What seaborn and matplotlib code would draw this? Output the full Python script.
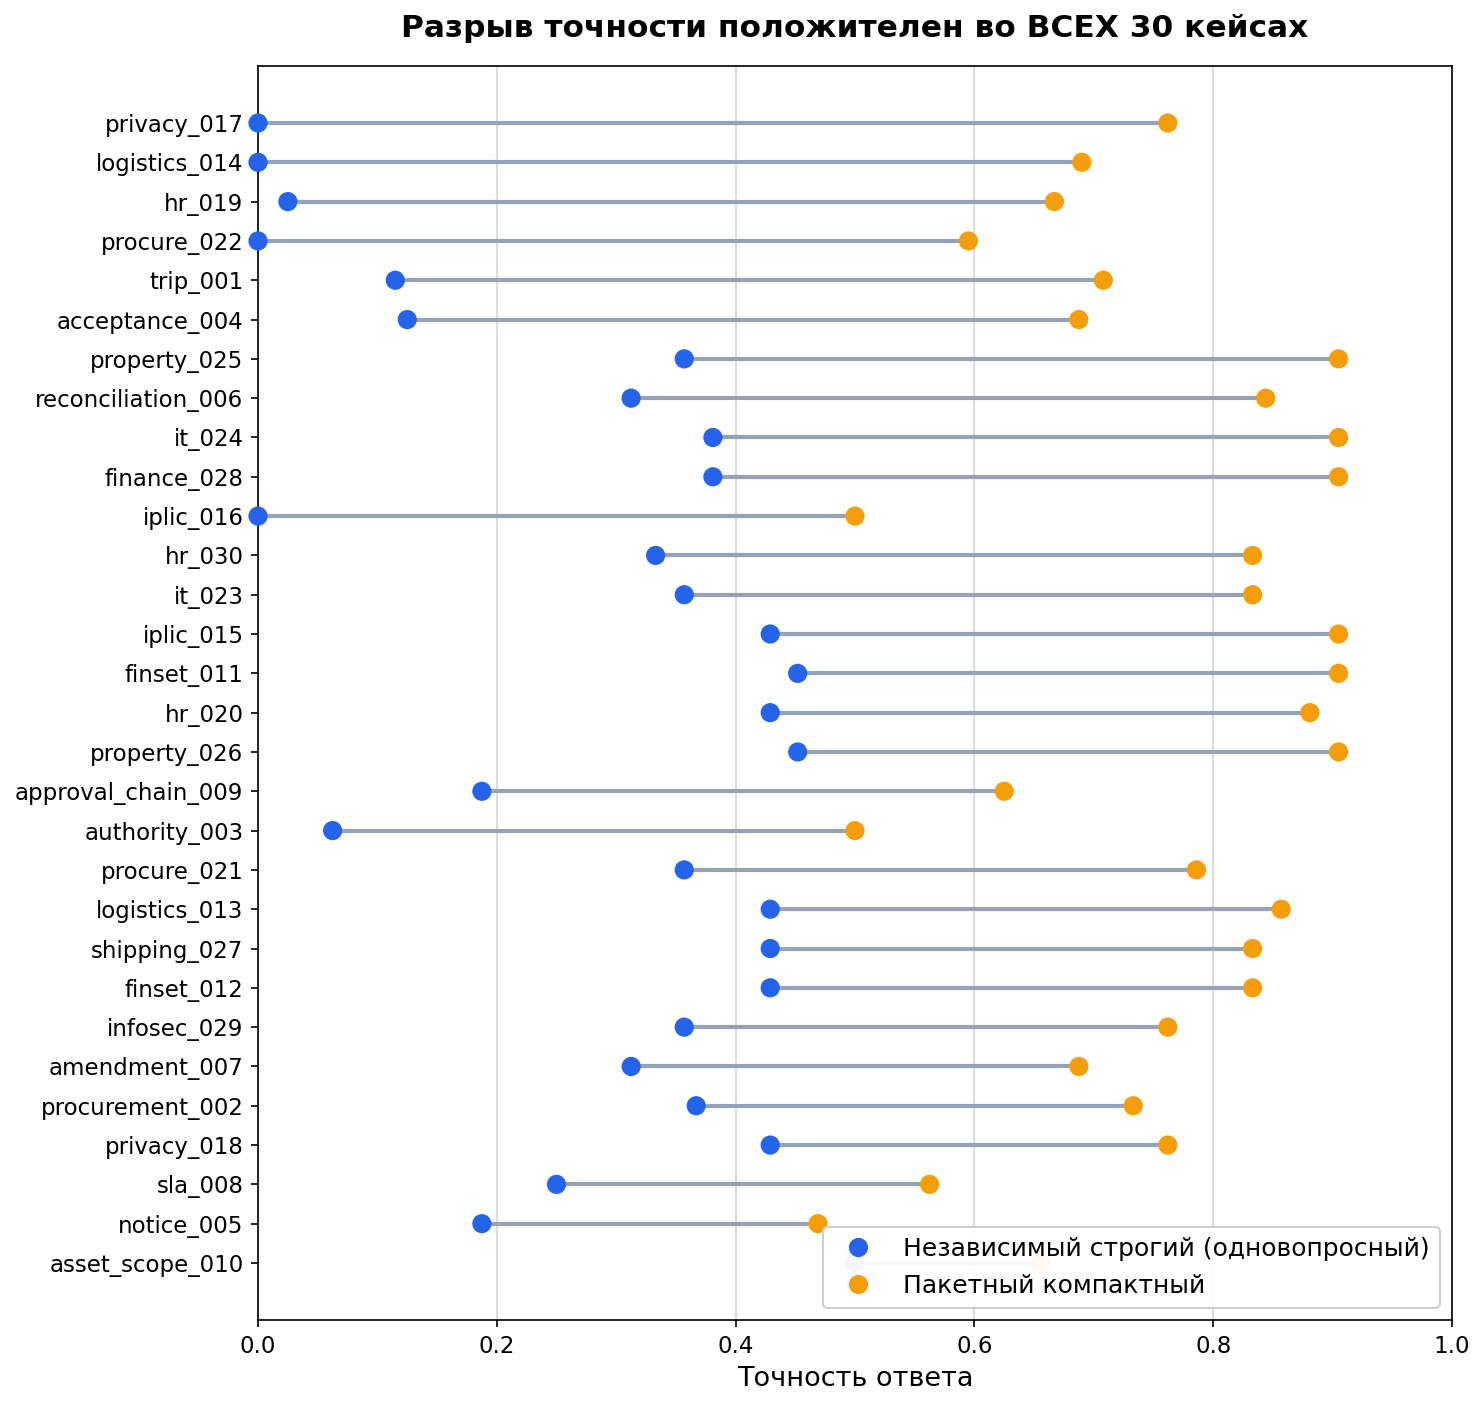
import numpy as np
import pandas as pd
import matplotlib
matplotlib.use("Agg")
import matplotlib.pyplot as plt
import seaborn as sns

# cases listed bottom -> top
cases = ["asset_scope_010", "notice_005", "sla_008", "privacy_018", "procurement_002",
         "amendment_007", "infosec_029", "finset_012", "shipping_027", "logistics_013",
         "procure_021", "authority_003", "approval_chain_009", "property_026", "hr_020",
         "finset_011", "iplic_015", "it_023", "hr_030", "iplic_016",
         "finance_028", "it_024", "reconciliation_006", "property_025", "acceptance_004",
         "trip_001", "procure_022", "hr_019", "logistics_014", "privacy_017"]
strict_acc = [0.500, 0.1875, 0.250, 0.429, 0.367,
              0.3125, 0.357, 0.429, 0.429, 0.429,
              0.357, 0.0625, 0.1875, 0.452, 0.429,
              0.452, 0.429, 0.357, 0.333, 0.000,
              0.381, 0.381, 0.3125, 0.357, 0.125,
              0.115, 0.000, 0.025, 0.000, 0.000]
batch_acc = [0.656, 0.469, 0.5625, 0.762, 0.733,
             0.6875, 0.762, 0.833, 0.833, 0.857,
             0.786, 0.500, 0.625, 0.905, 0.881,
             0.905, 0.905, 0.833, 0.833, 0.500,
             0.905, 0.905, 0.844, 0.905, 0.6875,
             0.708, 0.595, 0.667, 0.690, 0.762]
series_names = ["Независимый строгий (одновопросный)", "Пакетный компактный"]
colors = ["#2563eb", "#f59e0b"]

plt.rcParams["font.family"] = ["DejaVu Sans"]

pos = np.arange(len(cases))
df = pd.DataFrame({
    "pos": np.concatenate([pos, pos]),
    "acc": np.concatenate([strict_acc, batch_acc]),
    "method": [series_names[0]] * len(cases) + [series_names[1]] * len(cases),
})

fig = plt.figure(figsize=(1484 / 150, 1407 / 150), dpi=150)
ax = fig.add_axes([258 / 1484, 1 - 1320 / 1407, (1452 - 258) / 1484, (1320 - 66) / 1407])

ax.hlines(pos, strict_acc, batch_acc, color="#94a3b8", linewidth=2, zorder=2)
sns.scatterplot(data=df, x="acc", y="pos", hue="method", palette=colors,
                s=85, edgecolor="none", zorder=3, ax=ax, clip_on=False)

ax.set_yticks(pos)
ax.set_yticklabels(cases, fontsize=11)
ax.set_xlim(0, 1.0)
ax.set_xticks([0.0, 0.2, 0.4, 0.6, 0.8, 1.0])
ax.set_xticklabels(["0.0", "0.2", "0.4", "0.6", "0.8", "1.0"], fontsize=11)
ax.grid(axis="x", color="#dddddd", linewidth=1, zorder=0)
ax.set_axisbelow(True)
ax.set_ylabel("")
ax.set_xlabel("Точность ответа", fontsize=13)
ax.set_title("Разрыв точности положителен во ВСЕХ 30 кейсах", fontsize=15,
             fontweight="bold", pad=14)
leg = ax.legend(loc="lower right", fontsize=12, title=None, framealpha=0.95,
                markerscale=1.0)

fig.savefig("out.png", dpi=150)
